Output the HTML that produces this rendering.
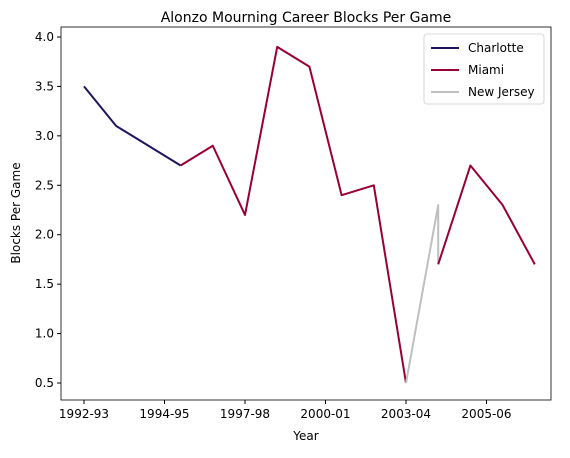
<!DOCTYPE html>
<html><head><meta charset="utf-8"><style>
body{margin:0;background:#fff;font-family:"Liberation Sans","DejaVu Sans",sans-serif;}
svg text{font-family:"DejaVu Sans","Liberation Sans",sans-serif;}
</style></head><body>
<svg id="chart" width="570" height="453" viewBox="0 0 570 453">
<text x="306" y="22" font-size="14" text-anchor="middle" fill="#000">Alonzo Mourning Career Blocks Per Game</text>
<g id="grid"></g>
<g id="lines"></g>
<rect x="61" y="27" width="490" height="373" fill="none" stroke="#000" stroke-width="0.8"/>
<text x="306" y="440" font-size="12" text-anchor="middle">Year</text>
<text x="20" y="213" font-size="12" text-anchor="middle" transform="rotate(-90 20 213)">Blocks Per Game</text>
<g>
<rect x="424" y="34" width="120" height="70" rx="3" fill="#fff" stroke="#ccc" stroke-width="0.8"/>
<line x1="431" y1="48" x2="459" y2="48" stroke="#1f1460" stroke-width="2"/>
<text x="468" y="52" font-size="12">Charlotte</text>
<line x1="431" y1="70" x2="459" y2="70" stroke="#990033" stroke-width="2"/>
<text x="468" y="74" font-size="12">Miami</text>
<line x1="431" y1="92" x2="459" y2="92" stroke="#bfbfbf" stroke-width="2"/>
<text x="468" y="96" font-size="12">New Jersey</text>
</g>
</svg>
<script>
const charlotteX=[0,1,3];
const charlotteY=[3.5,3.1,2.7];
const miamiX=[3,4,5,6,7,8,9,10];
const miamiY=[2.7,2.9,2.2,3.9,3.7,2.4,2.5,0.5];
const njX=[10,11,11];
const njY=[0.5,2.3,1.7];
const miami2X=[11,12,13,14];
const miami2Y=[1.7,2.7,2.3,1.7];
const yTicks=[0.5,1.0,1.5,2.0,2.5,3.0,3.5,4.0];
const xTickPos=[0,2.5,5,7.5,10,12.5];
const xTickLabels=["1992-93","1994-95","1997-98","2000-01","2003-04","2005-06"];
const NS="http://www.w3.org/2000/svg";
function sx(i){return 84+i*32.2;}
function sy(v){return 383-(v-0.5)*98.86;}
const grid=document.getElementById('grid');
yTicks.forEach(t=>{
 const l=document.createElementNS(NS,'line');
 l.setAttribute('x1',57);l.setAttribute('x2',61);l.setAttribute('y1',sy(t));l.setAttribute('y2',sy(t));l.setAttribute('stroke','#000');
 
 
 grid.appendChild(l);
 const tx=document.createElementNS(NS,'text');
 tx.setAttribute('x',54);tx.setAttribute('y',sy(t)+4);tx.setAttribute('font-size','12');tx.setAttribute('text-anchor','end');
 tx.textContent=t.toFixed(1);
 
 
 grid.appendChild(tx);
});
xTickPos.forEach((p,k)=>{
 const l=document.createElementNS(NS,'line');
 l.setAttribute('x1',sx(p));l.setAttribute('x2',sx(p));l.setAttribute('y1',400);l.setAttribute('y2',404);l.setAttribute('stroke','#000');
 
 
 grid.appendChild(l);
 const tx=document.createElementNS(NS,'text');
 tx.setAttribute('x',sx(p));tx.setAttribute('y',418);tx.setAttribute('font-size','12');tx.setAttribute('text-anchor','middle');
 tx.textContent=xTickLabels[k];
 
 
 grid.appendChild(tx);
});
const lines=document.getElementById('lines');
function draw(xs,ys,color,name){
 const p=document.createElementNS(NS,'polyline');
 p.setAttribute('points',xs.map((x,i)=>sx(x)+','+sy(ys[i])).join(' '));
 p.setAttribute('fill','none');p.setAttribute('stroke',color);p.setAttribute('stroke-width','2');p.setAttribute('stroke-linejoin','round');
 
 
 lines.appendChild(p);
}
draw(charlotteX,charlotteY,'#1f1460','line-charlotte');
draw(miamiX,miamiY,'#990033','line-miami');
draw(njX,njY,'#bfbfbf','line-new-jersey');
draw(miami2X,miami2Y,'#990033','line-miami-2');
</script>
</body></html>
